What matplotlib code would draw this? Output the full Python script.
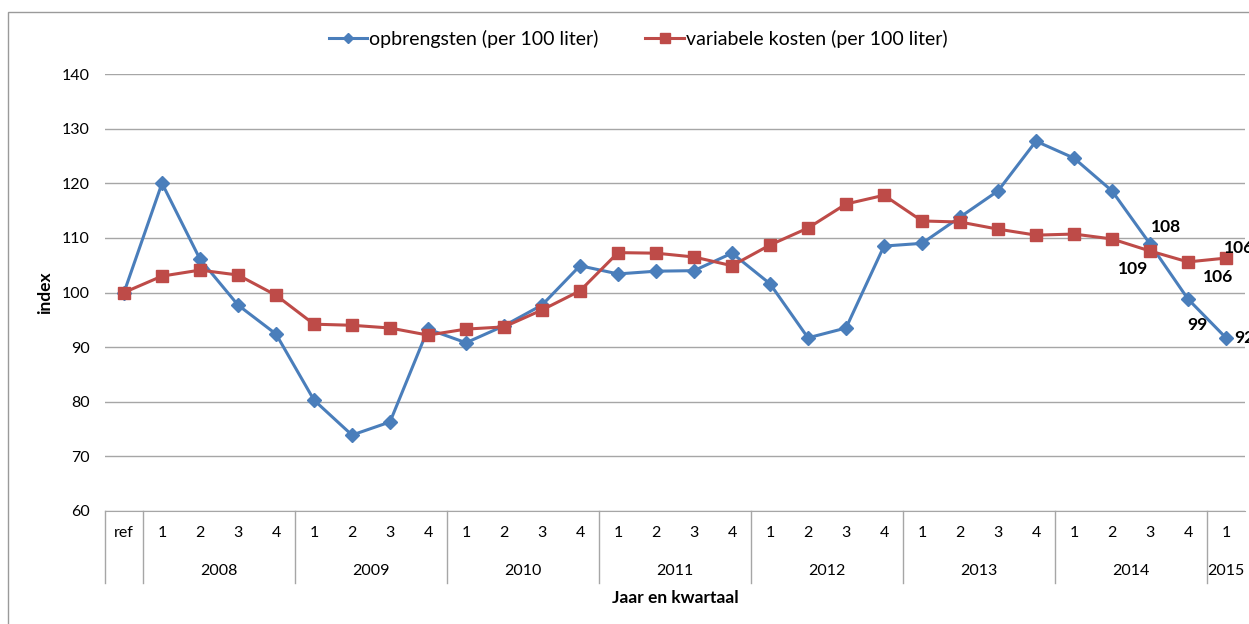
import matplotlib.pyplot as plt
from matplotlib.patches import Rectangle

plt.rcParams["font.family"] = ["Lato", "DejaVu Sans"]

quarters = ["ref"] + ["1", "2", "3", "4"] * 7 + ["1"]
years = ["2008", "2009", "2010", "2011", "2012", "2013", "2014", "2015"]

opbrengsten = [100, 120.0, 106.1, 97.7, 92.4,
               80.3, 73.9, 76.3, 93.3,
               90.8, 93.9, 97.7, 104.9,
               103.4, 103.9, 104.0, 107.2,
               101.6, 91.7, 93.5, 108.5,
               109.0, 113.8, 118.6, 127.7,
               124.6, 118.6, 108.9, 98.8,
               91.7]
kosten = [100, 103.0, 104.1, 103.2, 99.5,
          94.2, 94.0, 93.5, 92.2,
          93.3, 93.7, 96.8, 100.3,
          107.3, 107.2, 106.5, 104.9,
          108.7, 111.8, 116.2, 117.8,
          113.1, 112.9, 111.6, 110.5,
          110.7, 109.8, 107.6, 105.6,
          106.3]

# labels shown at the last points: (series, index, text, dx px, dy px, ha)
point_labels = [
    ("kosten", 27, "108", 16, -24, "center"),
    ("opbrengsten", 27, "109", -17, 25, "center"),
    ("kosten", 28, "106", 30, 15, "center"),
    ("opbrengsten", 28, "99", 9, 26, "center"),
    ("kosten", 29, "106", -2, -10, "left"),
    ("opbrengsten", 29, "92", 8, 0, "left"),
]

blue = "#4a7ebb"
red = "#be4b48"

fig = plt.figure(figsize=(12.49, 6.24), dpi=100)
ax = fig.add_axes([105 / 1249, 1 - 511 / 624, 1140 / 1249, 437 / 624])

x = list(range(len(quarters)))
ax.plot(x, opbrengsten, color=blue, lw=2.2, marker="D", ms=7,
        label="opbrengsten (per 100 liter)", zorder=3)
ax.plot(x, kosten, color=red, lw=2.2, marker="s", ms=9,
        label="variabele kosten (per 100 liter)", zorder=3)

series = {"opbrengsten": opbrengsten, "kosten": kosten}
for name, i, txt, dx, dy, ha in point_labels:
    ax.annotate(txt, (i, series[name][i]), xytext=(dx * 0.72, -dy * 0.72),
                textcoords="offset points", ha=ha, va="center",
                fontsize=12.5, fontweight="bold", annotation_clip=False)

ax.set_xlim(-0.5, len(quarters) - 0.5)
ax.set_ylim(60, 140)
ax.set_yticks(range(60, 141, 10))
ax.yaxis.grid(True, color="#a6a6a6", lw=1)
ax.set_axisbelow(True)
for s in ["left", "right", "top"]:
    ax.spines[s].set_visible(False)
ax.spines["bottom"].set_color("#a6a6a6")
ax.tick_params(axis="y", length=0, pad=11, labelsize=11.5)
ax.set_xticks(x)
ax.set_xticklabels(quarters)
ax.tick_params(axis="x", length=0, pad=11, labelsize=11.5)

# year groups under the quarters
trans = ax.get_xaxis_transform()
seps = [-0.5, 0.5] + [0.5 + 4 * k for k in range(1, 8)]
for s in seps:
    ax.plot([s, s], [0, -0.165], transform=trans, color="#a6a6a6", lw=1,
            clip_on=False)
for k, yr in enumerate(years):
    start = 0.5 + 4 * k
    end = min(start + 4, len(quarters) - 0.5)
    ax.text((start + end) / 2, -0.137, yr, transform=trans, ha="center",
            va="center", fontsize=11.5)

ax.set_ylabel("index", fontsize=12.5, fontweight="bold", labelpad=6)
ax.text(0.5, -0.2, "Jaar en kwartaal", transform=ax.transAxes, ha="center",
        va="center", fontsize=12.5, fontweight="bold")

fig.legend(loc="center", bbox_to_anchor=(0.511, 1 - 39 / 624), ncol=2,
           frameon=False, fontsize=14, handlelength=2.0, handletextpad=0.1,
           columnspacing=2.4, markerscale=0.75)

fig.patches.append(Rectangle((8 / 1249, -0.1), 1.2, 1 - 12 / 624 + 0.1,
                             transform=fig.transFigure, fill=False,
                             edgecolor="#9a9a9a", lw=1))

fig.savefig("out.png", dpi=100)
